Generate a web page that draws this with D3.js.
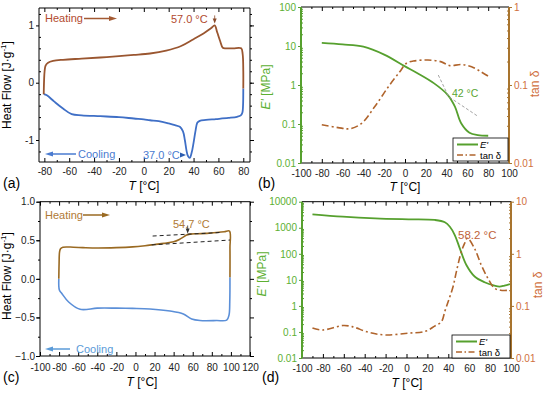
<!DOCTYPE html>
<html>
<head>
<meta charset="utf-8">
<script src="https://cdn.jsdelivr.net/npm/d3@7"></script>
<style>
body { margin: 0; background: #fff; }
svg { display: block; font-family: "Liberation Sans", Arial, sans-serif; }
</style>
</head>
<body>
<div id="chart"></div>
<script>
// (a) DSC, sample 1
var aHeatT = [-80.5, -80.2, -79.8, -79, -77, -73, -65, -50, -35, -20, -8, 5, 18, 30, 40, 48, 54, 57, 59, 61.5, 63.5, 66, 72, 78.3, 79.5, 80, 80];
var aHeatHF = [-0.2, 0.05, 0.2, 0.3, 0.35, 0.38, 0.4, 0.42, 0.44, 0.465, 0.485, 0.51, 0.56, 0.64, 0.76, 0.86, 0.95, 1.0, 0.88, 0.72, 0.61, 0.6, 0.6, 0.6, 0.5, 0.2, -0.1];
var aCoolT = [80, 79.8, 79.3, 78, 75, 68, 58, 50, 45, 43, 41.5, 40, 38.5, 37, 35.5, 34.3, 33, 31.5, 29, 25, 20, 12, 5, 0, -8, -20, -35, -50, -58, -65, -72, -78, -80.5];
var aCoolHF = [-0.1, -0.4, -0.52, -0.57, -0.595, -0.615, -0.635, -0.65, -0.665, -0.7, -0.85, -1.05, -1.22, -1.31, -1.28, -1.18, -1.0, -0.85, -0.77, -0.74, -0.71, -0.67, -0.655, -0.64, -0.625, -0.6, -0.585, -0.57, -0.55, -0.45, -0.33, -0.22, -0.2];

// (b) DMA, sample 1
var bModT = [-80, -60, -40, -20, 0, 12, 28, 41, 48, 54, 62, 70, 80];
var bMod = [12, 11, 9.6, 6, 3, 2, 1.1, 0.56, 0.28, 0.105, 0.06, 0.052, 0.05];
var bTanT = [-80, -61, -53, -42, -29, -16, -5, 1.4, 9.4, 22, 35, 43, 54, 64, 73, 80];
var bTan = [0.031, 0.028, 0.0275, 0.032, 0.053, 0.095, 0.148, 0.19, 0.204, 0.209, 0.198, 0.177, 0.183, 0.171, 0.148, 0.13];
var bOnsetT = [32, 42, 70.5];
var bOnsetE = [1.8, 0.5, 0.155];

// (c) DSC, sample 2
var cHeatT = [-80.3, -80, -79.5, -78.5, -76, -65, -55, -40, -20, -3, 10, 20, 30, 40, 46, 50, 53, 57, 65, 75, 85, 93, 98.5, 99, 99];
var cHeatHF = [0, 0.2, 0.35, 0.39, 0.41, 0.41, 0.405, 0.4, 0.405, 0.415, 0.43, 0.445, 0.46, 0.48, 0.51, 0.54, 0.565, 0.58, 0.585, 0.59, 0.6, 0.61, 0.62, 0.4, 0.02];
var cCoolT = [99, 98.8, 98, 95.6, 85, 67.6, 58.9, 50.2, 36.2, 15.2, -3, -20, -40, -58, -70, -77.3, -79.7, -80.3];
var cCoolHF = [0.02, -0.3, -0.47, -0.535, -0.54, -0.54, -0.52, -0.455, -0.417, -0.39, -0.383, -0.38, -0.38, -0.395, -0.3, -0.187, -0.145, 0];
var cUpperT = [18, 88];
var cUpperHF = [0.555, 0.6];
var cLowerT = [17, 99];
var cLowerHF = [0.44, 0.503];

// (d) DMA, sample 2
var dModT = [-90, -61, -30, 2, 27, 36.7, 41.5, 46.2, 51, 57.3, 65.2, 74.7, 84.2, 89, 93.7, 99];
var dMod = [3270, 2660, 2290, 2100, 1990, 1630, 1090, 525, 162, 37, 13.4, 8.1, 6.0, 5.5, 6.0, 6.9];
var dTanT = [-90, -80, -61, -52, -36, -20, 2, 18, 27, 33.5, 36.7, 40, 44.6, 47.8, 52.5, 55.7, 58.2, 65, 71.5, 77.8, 84, 90, 99];
var dTan = [0.0376, 0.0345, 0.042, 0.04, 0.031, 0.0277, 0.03, 0.0325, 0.041, 0.05, 0.079, 0.123, 0.236, 0.46, 1.1, 1.6, 2.0, 1.28, 0.61, 0.34, 0.22, 0.2, 0.2];

// tick labels
var aTicksX = [-80, -60, -40, -20, 0, 20, 40, 60, 80];
var aTicksY = [-1, 0, 1];
var bTicksX = [-100, -80, -60, -40, -20, 0, 20, 40, 60, 80, 100];
var bTicksE = [0.01, 0.1, 1, 10, 100];
var bTicksTan = [0.01, 0.1, 1];
var cTicksX = [-100, -80, -60, -40, -20, 0, 20, 40, 60, 80, 100, 120];
var cTicksY = [-1.0, -0.5, 0.0, 0.5, 1.0];
var dTicksE = [0.01, 0.1, 1, 10, 100, 1000, 10000];
var dTicksTan = [0.01, 0.1, 1, 10];

var green = "#56a02e", greenTxt = "#5cb032", tanCol = "#b0642c", tanAxis = "#a8742e", tanTxt = "#d0703e";

var svg = d3.select("#chart").append("svg")
    .attr("width", 550)
    .attr("height", 393);

function zip(xs, ys) {
    return xs.map(function(d, i) { return [d, ys[i]]; });
}

function minorsLin(lo, hi, step) {
    var r = [];
    for (var v = lo; v <= hi + 1e-9; v += step) r.push(+v.toFixed(4));
    return r;
}

function minorsLog(lo, hi) {
    var r = [];
    for (var e = lo; e < hi; e *= 10) {
        for (var k = 2; k < 10; k++) r.push(e * k);
    }
    return r;
}

function styleAxis(g, size, color) {
    g.select(".domain").remove();
    g.selectAll("text").attr("font-size", size).attr("font-family", "Liberation Sans, Arial, sans-serif").attr("fill", color);
    g.selectAll("line").attr("stroke", color === "#222" ? "#000" : color);
}

// bottom + top ticks
function xAxes(x, y0, y1, majors, minors, pad) {
    var gb = svg.append("g").attr("transform", "translate(0," + y0 + ")")
        .call(d3.axisBottom(x).tickValues(majors).tickSizeInner(-4).tickSizeOuter(0).tickPadding(pad).tickFormat(function(d) { return String(d); }));
    styleAxis(gb, 10, "#222");
    var gm = svg.append("g").attr("transform", "translate(0," + y0 + ")")
        .call(d3.axisBottom(x).tickValues(minors).tickSizeInner(-2).tickSizeOuter(0).tickFormat(""));
    styleAxis(gm, 10, "#222");
    var gt = svg.append("g").attr("transform", "translate(0," + y1 + ")")
        .call(d3.axisTop(x).tickValues(majors).tickSizeInner(-4).tickSizeOuter(0).tickFormat(""));
    styleAxis(gt, 10, "#222");
    var gtm = svg.append("g").attr("transform", "translate(0," + y1 + ")")
        .call(d3.axisTop(x).tickValues(minors).tickSizeInner(-2).tickSizeOuter(0).tickFormat(""));
    styleAxis(gtm, 10, "#222");
}

function yAxis(y, xPos, side, majors, minors, fmt, color, lineColor) {
    var make = side === "left" ? d3.axisLeft : d3.axisRight;
    var g = svg.append("g").attr("transform", "translate(" + xPos + ",0)")
        .call(make(y).tickValues(majors).tickSizeInner(3).tickSizeOuter(0).tickPadding(2).tickFormat(fmt));
    styleAxis(g, 10, color);
    g.selectAll("line").attr("stroke", lineColor);
    if (minors) {
        var gm = svg.append("g").attr("transform", "translate(" + xPos + ",0)")
            .call(make(y).tickValues(minors).tickSizeInner(-2).tickSizeOuter(0).tickFormat(""));
        styleAxis(gm, 10, color);
        gm.selectAll("line").attr("stroke", lineColor);
    }
}

function innerTicks(y, xPos, dir, majors, minors, color) {
    var make = dir === "left" ? d3.axisLeft : d3.axisRight;
    var g = svg.append("g").attr("transform", "translate(" + xPos + ",0)")
        .call(make(y).tickValues(majors).tickSizeInner(-4).tickSizeOuter(0).tickFormat(""));
    styleAxis(g, 10, color);
    var gm = svg.append("g").attr("transform", "translate(" + xPos + ",0)")
        .call(make(y).tickValues(minors).tickSizeInner(-2).tickSizeOuter(0).tickFormat(""));
    styleAxis(gm, 10, color);
}

function frame(x0, y0, x1, y1, leftCol, rightCol, lw) {
    svg.append("line").attr("x1", x0).attr("x2", x1).attr("y1", y0).attr("y2", y0).attr("stroke", "#000").attr("stroke-width", 1);
    svg.append("line").attr("x1", x0).attr("x2", x1).attr("y1", y1).attr("y2", y1).attr("stroke", "#000").attr("stroke-width", 1);
    svg.append("line").attr("x1", x0).attr("x2", x0).attr("y1", y0).attr("y2", y1).attr("stroke", leftCol).attr("stroke-width", lw);
    svg.append("line").attr("x1", x1).attr("x2", x1).attr("y1", y0).attr("y2", y1).attr("stroke", rightCol).attr("stroke-width", lw);
}

function curve(pts, x, y, color, width, dash) {
    var line = d3.line()
        .x(function(d) { return x(d[0]); })
        .y(function(d) { return y(d[1]); })
        .curve(d3.curveCatmullRom.alpha(0.5));
    var p = svg.append("path").datum(pts)
        .attr("d", line)
        .attr("fill", "none")
        .attr("stroke", color)
        .attr("stroke-width", width)
        .attr("stroke-linejoin", "round");
    if (dash) p.attr("stroke-dasharray", dash);
    return p;
}

function label(txt, x, y, size, color, anchor) {
    return svg.append("text").attr("x", x).attr("y", y).attr("font-size", size)
        .attr("fill", color).attr("text-anchor", anchor || "start").text(txt);
}

function arrow(x0, x1, y, color) {
    var dir = x1 > x0 ? 1 : -1;
    svg.append("line").attr("x1", x0).attr("x2", x1 - dir * 6).attr("y1", y).attr("y2", y)
        .attr("stroke", color).attr("stroke-width", 1.5);
    svg.append("path").attr("d", "M" + x1 + "," + y + "L" + (x1 - dir * 8) + "," + (y - 2.5) + "L" + (x1 - dir * 8) + "," + (y + 2.5) + "Z")
        .attr("fill", color);
}

function triDown(x, y, color) {
    svg.append("path").attr("d", "M" + x + "," + y + "L" + (x - 2) + "," + (y - 5) + "L" + (x + 2) + "," + (y - 5) + "Z").attr("fill", color);
    svg.append("line").attr("x1", x).attr("x2", x).attr("y1", y - 8).attr("y2", y - 4).attr("stroke", color).attr("stroke-width", 0.8);
}

function xTitle(x, y) {
    var t = svg.append("text").attr("x", x).attr("y", y).attr("font-size", 12).attr("text-anchor", "middle");
    t.append("tspan").attr("font-style", "italic").text("T");
    t.append("tspan").text(" [°C]");
}

function hfTitle(cx, cy) {
    var t = svg.append("text").attr("transform", "translate(" + cx + "," + cy + ") rotate(-90)")
        .attr("font-size", 12).attr("text-anchor", "middle");
    t.append("tspan").text("Heat Flow [J·g");
    t.append("tspan").attr("font-size", 8).attr("dy", -5).text("-1");
    t.append("tspan").attr("dy", 5).text("]");
}

function eTitle(cx, cy) {
    var t = svg.append("text").attr("transform", "translate(" + cx + "," + cy + ") rotate(-90)")
        .attr("font-size", 12).attr("text-anchor", "middle").attr("fill", greenTxt);
    t.append("tspan").attr("font-style", "italic").text("E'");
    t.append("tspan").text(" [MPa]");
}

function tanTitle(cx, cy) {
    svg.append("text").attr("transform", "translate(" + cx + "," + cy + ") rotate(-90)")
        .attr("font-size", 12).attr("text-anchor", "middle").attr("fill", tanTxt).text("tan δ");
}

function legend(x0, y0, w, h) {
    svg.append("rect").attr("x", x0).attr("y", y0).attr("width", w).attr("height", h)
        .attr("fill", "#fff").attr("stroke", "#000").attr("stroke-width", 0.8);
    svg.append("line").attr("x1", x0 + 4).attr("x2", x0 + 25).attr("y1", y0 + 6.5).attr("y2", y0 + 6.5)
        .attr("stroke", green).attr("stroke-width", 2);
    svg.append("line").attr("x1", x0 + 4).attr("x2", x0 + 25).attr("y1", y0 + 17).attr("y2", y0 + 17)
        .attr("stroke", tanCol).attr("stroke-width", 1.5).attr("stroke-dasharray", "6,2.5,1.5,2.5");
    label("E'", x0 + 27, y0 + 9.5, 9.5, "#000").attr("font-style", "italic");
    label("tan δ", x0 + 27, y0 + 20.5, 9.5, "#000");
}

// ---------- (a) ----------
var xA = d3.scaleLinear().domain([-84.3, 85.4]).range([39, 250]);
var yA = d3.scaleLinear().domain([-1.384, 1.304]).range([162, 8]);
xAxes(xA, 162, 8, aTicksX, minorsLin(-70, 70, 20), 6);
yAxis(yA, 39, "left", aTicksY, minorsLin(-1.2, 1.2, 0.2).filter(function(d) { return aTicksY.indexOf(d) < 0; }), function(d) { return String(d); }, "#222", "#000");
innerTicks(yA, 250, "left", aTicksY, minorsLin(-1.2, 1.2, 0.2), "#222");
frame(39, 8, 250, 162, "#000", "#000", 1);
curve(zip(aCoolT, aCoolHF), xA, yA, "#3f6fc6", 1.8);
curve(zip(aHeatT, aHeatHF), xA, yA, "#9a5630", 1.8);
label("Heating", 45, 22, 11, "#b24a2e");
arrow(84, 117, 18.5, "#a35a33");
label("57.0 °C", xA(57) - 7, yA(1.0) - 2, 11, "#b24a2e", "end");
triDown(xA(57), yA(1.0) - 2, "#8a4a2a");
label("Cooling", 78, 158, 11, "#4a7bd0");
arrow(76, 45, 154, "#4a7bd0");
label("37.0 °C", 143, 159, 11, "#4a7bd0");
svg.append("path").attr("d", "M186,155L180,152.5L180,157.5Z").attr("fill", "#2d5db0");
hfTitle(11, 85);
xTitle(144, 190);
label("(a)", 3, 188, 14, "#000");

// ---------- (b) ----------
var xB = d3.scaleLinear().domain([-100, 100]).range([301, 509]);
var yBE = d3.scaleLog().domain([0.01, 100]).range([163, 7]);
var yBT = d3.scaleLog().domain([0.01, 1]).range([163, 7]);
xAxes(xB, 163, 7, bTicksX, minorsLin(-90, 90, 20), 7);
yAxis(yBE, 301, "left", bTicksE, minorsLog(0.01, 100), function(d) { return String(d); }, greenTxt, green);
yAxis(yBT, 509, "right", bTicksTan, minorsLog(0.01, 1), function(d) { return String(d); }, tanTxt, tanAxis);
frame(301, 7, 509, 163, green, tanAxis, 2);
curve(zip(bModT, bMod), xB, yBE, green, 1.8);
curve(zip(bTanT, bTan), xB, yBT, tanCol, 1.6, "7,3,2,3");
svg.append("path").datum(zip(bOnsetT, bOnsetE))
    .attr("d", d3.line().x(function(d) { return xB(d[0]); }).y(function(d) { return yBE(d[1]); }))
    .attr("fill", "none").attr("stroke", "#999").attr("stroke-width", 0.9).attr("stroke-dasharray", "3,2");
label("42 °C", 452, 97, 10.5, "#5aa532");
legend(453, 138, 55, 23);
eTitle(270, 87);
tanTitle(539, 84);
xTitle(405, 191);
label("(b)", 258, 188, 14, "#000");

// ---------- (c) ----------
var xC = d3.scaleLinear().domain([-100, 120]).range([40, 250]);
var yC = d3.scaleLinear().domain([-1, 1]).range([356, 201.7]);
xAxes(xC, 356, 201.7, cTicksX, minorsLin(-90, 110, 20), 8);
yAxis(yC, 40, "left", cTicksY, null, d3.format(".1f"), "#222", "#000");
innerTicks(yC, 40, "right", cTicksY, minorsLin(-0.75, 0.75, 0.5), "#222");
innerTicks(yC, 250, "left", cTicksY, minorsLin(-0.75, 0.75, 0.5), "#222");
frame(40, 201.7, 250, 356, "#000", "#000", 1);
curve(zip(cCoolT, cCoolHF), xC, yC, "#5b8fd8", 1.6);
curve(zip(cHeatT, cHeatHF), xC, yC, "#9a6a22", 1.6);
[[cUpperT, cUpperHF], [cLowerT, cLowerHF]].forEach(function(s) {
    svg.append("path").datum(zip(s[0], s[1]))
        .attr("d", d3.line().x(function(d) { return xC(d[0]); }).y(function(d) { return yC(d[1]); }))
        .attr("fill", "none").attr("stroke", "#222").attr("stroke-width", 1).attr("stroke-dasharray", "4,3");
});
label("Heating", 45, 219, 11, "#b07a35");
arrow(83, 110, 215, "#9a6a22");
label("54.7 °C", 173, 227.5, 11, "#b07a35");
triDown(xC(54.7), yC(0.575) - 1, "#333");
label("Cooling", 76, 353, 11, "#5b9bd8");
arrow(70, 45, 349, "#5b9bd8");
hfTitle(11, 276);
xTitle(142, 386);
label("(c)", 3, 382, 14, "#000");

// ---------- (d) ----------
var xD = d3.scaleLinear().domain([-100, 100]).range([302, 511]);
var yDE = d3.scaleLog().domain([0.01, 10000]).range([358, 201.7]);
var yDT = d3.scaleLog().domain([0.01, 10]).range([358, 201.7]);
xAxes(xD, 358, 201.7, bTicksX, minorsLin(-90, 90, 20), 7);
yAxis(yDE, 302, "left", dTicksE, minorsLog(0.01, 10000), function(d) { return String(d); }, greenTxt, green);
yAxis(yDT, 511, "right", dTicksTan, minorsLog(0.01, 10), function(d) { return String(d); }, tanTxt, tanAxis);
frame(302, 201.7, 511, 358, green, tanAxis, 2);
curve(zip(dModT, dMod), xD, yDE, green, 1.8);
curve(zip(dTanT, dTan), xD, yDT, tanCol, 1.6, "7,3,2,3");
label("58.2 °C", 458, 238.5, 11.5, "#c0623a");
legend(452, 335, 58, 23);
eTitle(266, 274);
tanTitle(542, 285);
xTitle(407, 387);
label("(d)", 262, 382, 14, "#000");
</script>
</body>
</html>
